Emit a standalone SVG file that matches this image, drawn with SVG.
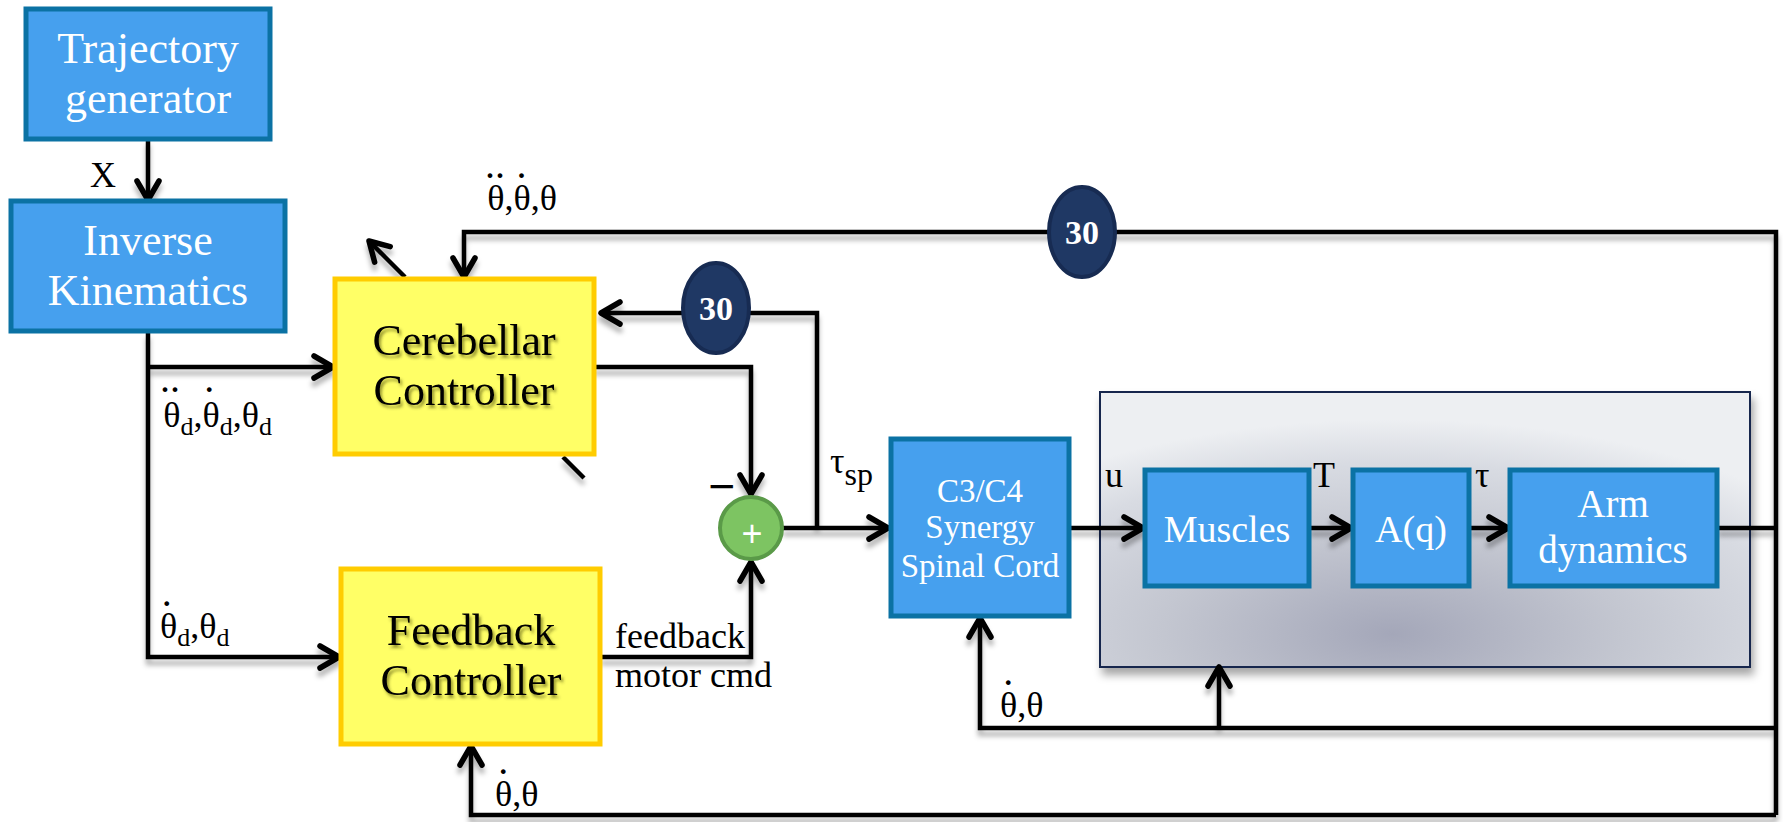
<svg xmlns="http://www.w3.org/2000/svg" width="1783" height="822" viewBox="0 0 1783 822">
  <style>
    .blue rect { fill: #46A0EE; stroke: #0B72A4; stroke-width: 5; }
    .blue text { fill: #ffffff; font-family: "Liberation Serif", serif; text-anchor: middle; }
    .yellow rect { fill: #FFFF66; stroke: #FFCC00; stroke-width: 5; }
    .yellow text { fill: #000000; font-family: "Liberation Serif", serif; font-size: 44px; text-anchor: middle; filter: url(#txtShadow); }
    .delay ellipse { fill: #1F3864; stroke: #172B52; stroke-width: 4; }
    .delay text { fill: #ffffff; font-family: "Liberation Serif", serif; font-weight: bold; font-size: 34px; text-anchor: middle; }
    .wire { fill: none; stroke: #000000; stroke-width: 4.5; stroke-linejoin: miter; }
    .lbl { fill: #000000; font-family: "Liberation Serif", serif; font-size: 36px; }
    .dt { font-size: 40px; }
    .sub { font-size: 26px; }
  </style>
  <defs>
    <marker id="arrow" markerUnits="userSpaceOnUse" viewBox="-26 -16 30 32" refX="0" refY="0" markerWidth="30" markerHeight="32" orient="auto" overflow="visible">
      <path d="M-19,-11 L0,0 L-19,11" fill="none" stroke="#000" stroke-width="5.5" stroke-linecap="round" stroke-linejoin="round"/>
    </marker>
    <filter id="wireShadow" x="-5%" y="-5%" width="110%" height="115%">
      <feDropShadow dx="0" dy="6" stdDeviation="2.5" flood-color="#000" flood-opacity="0.3"/>
    </filter>
    <filter id="panelShadow" x="-5%" y="-5%" width="112%" height="120%">
      <feDropShadow dx="3" dy="7" stdDeviation="4" flood-color="#000" flood-opacity="0.35"/>
    </filter>
    <filter id="txtShadow" x="-10%" y="-20%" width="120%" height="150%">
      <feDropShadow dx="2" dy="3" stdDeviation="1.8" flood-color="#3a3a00" flood-opacity="0.55"/>
    </filter>
    <radialGradient id="panelFill" cx="0.45" cy="0.88" r="0.78">
      <stop offset="0" stop-color="#A4A7B9"/>
      <stop offset="0.45" stop-color="#C3C6D0"/>
      <stop offset="0.8" stop-color="#D8DBE2"/>
      <stop offset="1" stop-color="#EDEFF2"/>
    </radialGradient>
  </defs>

  <rect width="1783" height="822" fill="#ffffff"/>

  <!-- musculoskeletal plant panel -->
  <g id="plant-panel">
    <rect x="1100" y="392" width="650" height="275" fill="url(#panelFill)" stroke="#17284D" stroke-width="2" filter="url(#panelShadow)"/>
  </g>

  <!-- connectors -->
  <g id="connectors" filter="url(#wireShadow)">
    <path class="wire" d="M148,139 V200" marker-end="url(#arrow)"/>
    <path class="wire" d="M148,332 V657 H339" marker-end="url(#arrow)"/>
    <path class="wire" d="M148,367 H333" marker-end="url(#arrow)"/>
    <path class="wire" d="M594,367 H751 V494" marker-end="url(#arrow)"/>
    <path class="wire" d="M601,657 H751 V562" marker-end="url(#arrow)"/>
    <path class="wire" d="M783,528 H888" marker-end="url(#arrow)"/>
    <path class="wire" d="M817,528 V313 H601" marker-end="url(#arrow)"/>
    <path class="wire" d="M1070,528 H1143" marker-end="url(#arrow)"/>
    <path class="wire" d="M1310,528 H1351" marker-end="url(#arrow)"/>
    <path class="wire" d="M1470,528 H1508" marker-end="url(#arrow)"/>
    <path class="wire" d="M1718,528 H1776"/>
    <path class="wire" d="M1776,815 V232 H464 V277" marker-end="url(#arrow)"/>
    <path class="wire" d="M1776,815 H471 V746" marker-end="url(#arrow)"/>
    <path class="wire" d="M1776,728 H980 V618" marker-end="url(#arrow)"/>
    <path class="wire" d="M1219,728 V667" marker-end="url(#arrow)"/>
    <path class="wire" d="M405,277 L369,241" marker-end="url(#arrow)"/>
    <path class="wire" d="M563,457 L584,478"/>
  </g>

  <!-- signal labels; derivative dots are raised tspans over each theta -->
  <g id="labels">
    <text class="lbl" x="90" y="187" font-size="50">X</text>

    <text class="lbl" x="485" y="210" font-size="37">θ<tspan class="dt" dx="-19.5" dy="-32">..</tspan><tspan dx="-0.5" dy="32">,θ</tspan><tspan class="dt" dx="-14.25" dy="-32">.</tspan><tspan dx="4.25" dy="32">,θ</tspan></text>

    <text class="lbl" x="160" y="427" font-size="42">θ<tspan class="dt" dx="-20.5" dy="-35">..</tspan><tspan class="sub" dx="0.5" dy="43">d</tspan><tspan dy="-8">,θ</tspan><tspan class="dt" dx="-15.5" dy="-35">.</tspan><tspan class="sub" dx="5.5" dy="43">d</tspan><tspan dy="-8">,θ</tspan><tspan class="sub" dy="8">d</tspan></text>

    <text class="lbl" x="160" y="638" font-size="42">θ<tspan class="dt" dx="-15.5" dy="-32">.</tspan><tspan class="sub" dx="5.5" dy="40">d</tspan><tspan dy="-8">,θ</tspan><tspan class="sub" dy="8">d</tspan></text>

    <text class="lbl" x="615" y="648" font-size="32">feedback</text>
    <text class="lbl" x="615" y="687" font-size="32">motor cmd</text>

    <text class="lbl" x="495" y="806">θ<tspan class="dt" dx="-14" dy="-32">.</tspan><tspan dx="4" dy="32">,θ</tspan></text>

    <text class="lbl" x="1000" y="717">θ<tspan class="dt" dx="-14" dy="-32">.</tspan><tspan dx="4" dy="32">,θ</tspan></text>

    <text class="lbl" x="830" y="473" font-size="50">τ<tspan font-size="32" dy="12">sp</tspan></text>
    <text class="lbl" x="1105" y="487" font-size="54">u</text>
    <text class="lbl" x="1313" y="487" font-size="52">T</text>
    <text class="lbl" x="1475" y="487" font-size="54">τ</text>
    <text x="722" y="502" font-family="Liberation Sans, sans-serif" font-size="46" text-anchor="middle" fill="#000">−</text>
  </g>

  <!-- blocks -->
  <g id="trajectory-generator" class="blue">
    <rect x="26" y="9" width="244" height="130"/>
    <text x="148" y="63" font-size="44">Trajectory</text>
    <text x="148" y="113" font-size="44">generator</text>
  </g>
  <g id="inverse-kinematics" class="blue">
    <rect x="11" y="201" width="274" height="130"/>
    <text x="148" y="255" font-size="44">Inverse</text>
    <text x="148" y="305" font-size="44">Kinematics</text>
  </g>
  <g id="cerebellar-controller" class="yellow">
    <rect x="335" y="279" width="259" height="175"/>
    <text x="464" y="355">Cerebellar</text>
    <text x="464" y="405">Controller</text>
  </g>
  <g id="feedback-controller" class="yellow">
    <rect x="341" y="569" width="259" height="175"/>
    <text x="471" y="645">Feedback</text>
    <text x="471" y="695">Controller</text>
  </g>
  <g id="summing-junction">
    <circle cx="751" cy="528" r="31" fill="#7DC462" stroke="#5A9A48" stroke-width="4"/>
    <text x="752" y="546" font-family="Liberation Sans, sans-serif" font-size="36" text-anchor="middle" fill="#ffffff">+</text>
  </g>
  <g id="spinal-cord" class="blue">
    <rect x="891" y="439" width="178" height="177"/>
    <text x="980" y="502" font-size="33">C3/C4</text>
    <text x="980" y="538" font-size="33">Synergy</text>
    <text x="980" y="577" font-size="33">Spinal Cord</text>
  </g>
  <g id="muscles" class="blue">
    <rect x="1145" y="470" width="164" height="116"/>
    <text x="1227" y="542" font-size="38">Muscles</text>
  </g>
  <g id="moment-arm" class="blue">
    <rect x="1353" y="470" width="116" height="116"/>
    <text x="1411" y="542" font-size="38">A(q)</text>
  </g>
  <g id="arm-dynamics" class="blue">
    <rect x="1510" y="470" width="207" height="116"/>
    <text x="1613" y="517" font-size="39">Arm</text>
    <text x="1613" y="563" font-size="39">dynamics</text>
  </g>
  <g id="delay-top" class="delay">
    <ellipse cx="1082" cy="232" rx="33" ry="45"/>
    <text x="1082" y="244">30</text>
  </g>
  <g id="delay-inner" class="delay">
    <ellipse cx="716" cy="308" rx="33" ry="45"/>
    <text x="716" y="320">30</text>
  </g>
</svg>
